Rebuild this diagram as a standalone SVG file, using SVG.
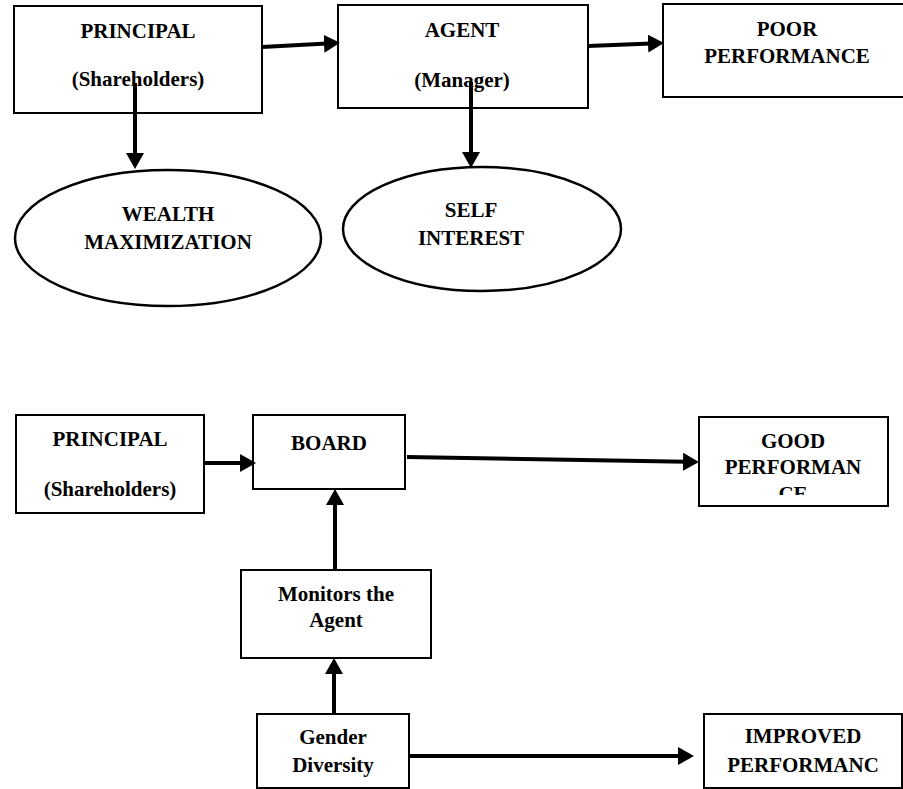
<svg xmlns="http://www.w3.org/2000/svg" width="903" height="789" viewBox="0 0 903 789">
<style>
.box{fill:#fff;stroke:#000;stroke-width:2}
.ell{fill:#fff;stroke:#000;stroke-width:2.5}
.t{font-family:"Liberation Serif","Times New Roman",serif;font-weight:bold;font-size:21px;fill:#000;text-anchor:middle}
.c{stroke:#000;stroke-width:4;fill:none}
</style>
<defs>
<marker id="ah" markerWidth="16" markerHeight="18" refX="3" refY="9" orient="auto" markerUnits="userSpaceOnUse">
<path d="M0,0 L16,9 L0,18 z" fill="#000"/>
</marker>
<clipPath id="goodclip"><rect x="699" y="417" width="190" height="78"/></clipPath>
</defs>
<rect width="903" height="789" fill="#fff"/>

<g id="principal1">
<rect class="box" x="14" y="6" width="248" height="107"/>
<text class="t" x="138" y="38">PRINCIPAL</text>
<text class="t" x="138" y="86">(Shareholders)</text>
</g>
<g id="agent">
<rect class="box" x="338" y="5" width="250" height="103"/>
<text class="t" x="462" y="37">AGENT</text>
<text class="t" x="462" y="87">(Manager)</text>
</g>
<g id="poor">
<rect class="box" x="663" y="4" width="245" height="93"/>
<text class="t" x="787" y="36">POOR</text>
<text class="t" x="787" y="63">PERFORMANCE</text>
</g>
<g id="wealth">
<ellipse class="ell" cx="168" cy="238" rx="153" ry="68"/>
<text class="t" x="168" y="221">WEALTH</text>
<text class="t" x="168" y="249">MAXIMIZATION</text>
</g>
<g id="self">
<ellipse class="ell" cx="482" cy="229" rx="139" ry="62"/>
<text class="t" x="471" y="217">SELF</text>
<text class="t" x="471" y="245">INTEREST</text>
</g>

<g id="principal2">
<rect class="box" x="16" y="415" width="188" height="98"/>
<text class="t" x="110" y="446">PRINCIPAL</text>
<text class="t" x="110" y="496">(Shareholders)</text>
</g>
<g id="board">
<rect class="box" x="253" y="415" width="152" height="74"/>
<text class="t" x="329" y="450">BOARD</text>
</g>
<g id="good">
<rect class="box" x="699" y="417" width="189" height="89"/>
<g clip-path="url(#goodclip)">
<text class="t" x="793" y="448">GOOD</text>
<text class="t" x="793" y="474">PERFORMAN</text>
<text class="t" x="793" y="501">CE</text>
</g>
</g>
<g id="monitors">
<rect class="box" x="241" y="570" width="190" height="88"/>
<text class="t" x="336" y="601">Monitors the</text>
<text class="t" x="336" y="627">Agent</text>
</g>
<g id="gender">
<rect class="box" x="257" y="714" width="152" height="74"/>
<text class="t" x="333" y="744">Gender</text>
<text class="t" x="333" y="772">Diversity</text>
</g>
<g id="improved">
<rect class="box" x="704" y="714" width="198" height="74"/>
<text class="t" x="803" y="743">IMPROVED</text>
<text class="t" x="803" y="772">PERFORMANC</text>
</g>

<g id="connectors">
<line class="c" x1="262" y1="47" x2="327" y2="43.5" marker-end="url(#ah)"/>
<line class="c" x1="588" y1="46" x2="651" y2="43.5" marker-end="url(#ah)"/>
<line class="c" x1="135" y1="83" x2="135" y2="156" marker-end="url(#ah)"/>
<line class="c" x1="471" y1="82" x2="471" y2="155" marker-end="url(#ah)"/>
<line class="c" x1="204" y1="463" x2="243" y2="463" marker-end="url(#ah)"/>
<line class="c" x1="407" y1="457" x2="686" y2="461.8" marker-end="url(#ah)"/>
<line class="c" x1="335" y1="570" x2="335" y2="502" marker-end="url(#ah)"/>
<line class="c" x1="334" y1="714" x2="334" y2="671" marker-end="url(#ah)"/>
<line class="c" x1="409" y1="756" x2="681" y2="756" marker-end="url(#ah)"/>
</g>
</svg>
